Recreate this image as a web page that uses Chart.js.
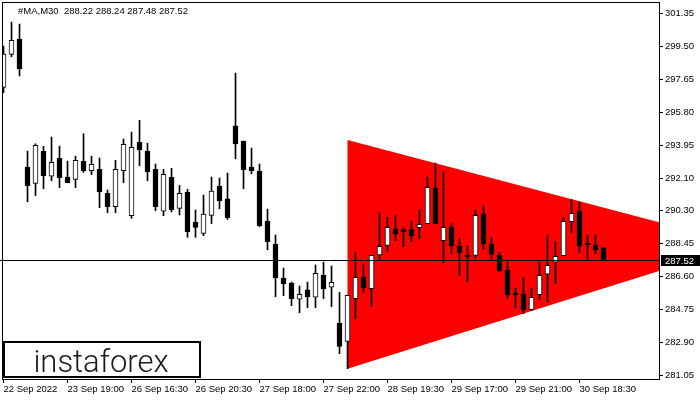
<!DOCTYPE html>
<html>
<head>
<meta charset="utf-8">
<script src="https://cdn.jsdelivr.net/npm/chart.js@4.4.0/dist/chart.umd.min.js"></script>
<style>
  html, body { margin: 0; padding: 0; background: #fff; }
</style>
</head>
<body>
<canvas id="chart" width="700" height="400"></canvas>
<script>
// M30 candles
const opens  = [297.21, 299.06, 299.90, 292.75, 291.83, 293.63, 292.23, 293.24, 292.19, 292.06,
                293.07, 292.54, 292.62, 291.27, 290.52, 292.54, 290.02, 294.13, 293.63, 292.62,
                290.27, 292.17, 290.43, 291.35, 289.67, 289.03, 290.04, 291.68, 290.96, 295.05,
                294.20, 292.75, 292.52, 289.72, 288.43, 286.53, 286.25, 285.34, 285.86, 285.45,
                286.68, 286.01, 283.99, 282.98, 285.37, 286.58, 285.93, 287.83, 288.36, 289.27,
                289.24, 289.24, 289.35, 289.57, 291.57, 288.62, 289.37, 288.32, 287.80, 287.80,
                290.11, 288.43, 287.80, 286.98, 285.67, 285.63, 284.75, 285.59, 286.74, 287.41,
                287.78, 289.68, 290.27, 288.47, 288.36, 288.22];
const highs  = [299.53, 300.87, 300.76, 293.64, 294.05, 293.91, 294.43, 293.92, 293.08, 293.36,
                294.61, 293.36, 293.25, 291.46, 293.12, 294.32, 294.71, 295.37, 294.08, 292.92,
                292.62, 292.68, 291.72, 291.50, 290.34, 291.18, 292.19, 292.13, 292.41, 298.01,
                294.20, 293.81, 292.92, 290.39, 288.94, 287.09, 286.30, 286.08, 286.30, 287.26,
                287.42, 287.20, 285.73, 285.56, 287.99, 287.31, 287.80, 290.17, 289.93, 290.04,
                289.35, 289.72, 290.34, 292.19, 292.97, 292.52, 289.59, 288.73, 288.36, 290.34,
                290.60, 288.81, 287.97, 287.50, 285.97, 286.53, 285.97, 287.41, 288.92, 288.56,
                289.93, 290.92, 290.79, 288.92, 288.92, 288.24];
const lows   = [296.91, 298.93, 297.85, 290.80, 291.14, 291.53, 291.98, 291.59, 291.87, 291.59,
                292.45, 292.32, 290.47, 290.19, 290.19, 291.87, 289.87, 292.82, 291.98, 290.30,
                290.02, 290.23, 290.06, 288.81, 288.81, 288.90, 289.58, 290.41, 289.81, 293.21,
                291.53, 292.37, 289.40, 288.11, 285.48, 285.54, 284.98, 284.58, 284.86, 284.86,
                285.37, 284.92, 282.29, 281.45, 284.25, 285.71, 284.92, 287.55, 288.00, 288.62,
                288.28, 288.56, 288.73, 289.57, 289.57, 287.39, 287.89, 286.66, 286.32, 287.61,
                288.15, 287.57, 286.89, 285.37, 284.86, 284.53, 284.72, 285.31, 285.20, 286.21,
                287.78, 289.07, 287.95, 287.52, 287.89, 287.48];
const closes = [299.08, 299.85, 298.26, 291.70, 293.96, 292.26, 293.01, 292.15, 291.87, 293.12,
                292.54, 292.90, 291.36, 290.52, 292.62, 294.02, 293.85, 293.72, 292.48, 290.52,
                292.34, 290.36, 291.27, 289.12, 289.37, 290.11, 291.40, 290.86, 289.91, 294.05,
                292.60, 292.54, 289.46, 288.56, 286.55, 286.21, 285.37, 285.62, 285.48, 286.79,
                285.93, 286.29, 282.70, 285.56, 286.57, 285.99, 287.80, 288.30, 289.37, 289.01,
                289.12, 288.90, 289.54, 291.61, 289.57, 289.37, 288.34, 287.95, 287.72, 290.04,
                288.45, 287.87, 286.94, 285.59, 285.58, 284.75, 285.45, 286.68, 287.24, 287.74,
                289.71, 290.15, 288.34, 288.39, 288.11, 287.52];

const xTickIndex  = [0, 8, 16, 24, 32, 40, 48, 56, 64, 72];
const xTickLabels = ['22 Sep 2022', '23 Sep 19:00', '26 Sep 16:30', '26 Sep 20:30', '27 Sep 18:00',
                     '27 Sep 22:00', '28 Sep 19:30', '29 Sep 17:00', '29 Sep 21:00', '30 Sep 18:30'];
const yTicks = [301.35, 299.50, 297.65, 295.80, 293.95, 292.10, 290.30, 288.45, 286.60, 284.75, 282.90, 281.05];

// triangle pattern: [candle index, price]
const triangle = [[43, 294.26], [92.5, 288.41], [43, 281.45]];
const lastPrice = 287.52;
const headerText = '#MA,M30  288.22 288.24 287.48 287.52';

const FONT = "'Liberation Sans', Arial, sans-serif";

const decor = {
    id: 'decor',
    beforeDatasetsDraw(chart) {
        const { ctx, chartArea: a, scales: { x, y } } = chart;
        ctx.save();
        ctx.beginPath();
        ctx.rect(a.left, a.top, a.right - a.left, a.bottom - a.top);
        ctx.clip();
        ctx.beginPath();
        triangle.forEach((p, i) => {
            const px = x.getPixelForValue(p[0]), py = y.getPixelForValue(p[1]);
            if (i === 0) ctx.moveTo(px, py); else ctx.lineTo(px, py);
        });
        ctx.closePath();
        ctx.fillStyle = '#FF0000';
        ctx.fill();
        ctx.restore();
    },
    afterDatasetsDraw(chart) {
        const { ctx, chartArea: a, scales: { y } } = chart;
        const py = Math.round(y.getPixelForValue(lastPrice)) + 0.5;
        ctx.save();
        // price line
        ctx.strokeStyle = '#000';
        ctx.lineWidth = 1;
        ctx.beginPath();
        ctx.moveTo(0, py);
        ctx.lineTo(a.right, py);
        ctx.stroke();
        // frame
        ctx.strokeRect(a.left - 0.5, a.top - 0.5, a.right - a.left + 1, a.bottom - a.top + 1);
        // last price label
        ctx.fillStyle = '#000';
        ctx.fillRect(a.right + 2, py - 5.5, 700 - a.right - 2, 11);
        ctx.fillStyle = '#fff';
        ctx.font = '9.5px ' + FONT;
        ctx.textBaseline = 'middle';
        ctx.fillText(lastPrice.toFixed(2), a.right + 6, py + 0.5);
        // header
        ctx.fillStyle = '#000';
        ctx.fillText(headerText, 18, 11);
        // logo box
        ctx.fillStyle = '#fff';
        ctx.fillRect(3, 341, 198, 37);
        ctx.lineWidth = 2;
        ctx.strokeRect(4, 342, 196, 35);
        ctx.fillStyle = '#1a1a1a';
        ctx.font = '300 31px Roboto, ' + FONT;
        ctx.textAlign = 'center';
        ctx.textBaseline = 'alphabetic';
        ctx.fillText('instaforex', 101, 372);
        ctx.restore();
    }
};

const idx = opens.map((_, i) => i);

new Chart(document.getElementById('chart'), {
    type: 'bar',
    data: {
        datasets: [
            {
                label: 'body',
                data: idx.map(i => ({ x: i, y: [opens[i], closes[i]] })),
                backgroundColor: idx.map(i => closes[i] >= opens[i] ? '#FFFFFF' : '#000000'),
                borderColor: '#000',
                borderWidth: 1,
                borderSkipped: false,
                barThickness: 5,
                grouped: false
            },
            {
                label: 'wick',
                data: idx.map(i => ({ x: i, y: [lows[i], highs[i]] })),
                backgroundColor: '#000',
                borderWidth: 0,
                barThickness: 1,
                grouped: false
            }
        ]
    },
    options: {
        responsive: false,
        animation: false,
        layout: { padding: { left: 3, top: 3, right: 0, bottom: 0 } },
        plugins: { legend: { display: false }, tooltip: { enabled: false } },
        scales: {
            x: {
                type: 'linear',
                offset: false,
                min: -0.0625,
                max: 81.9375,
                afterBuildTicks: s => { s.ticks = xTickIndex.map(v => ({ value: v })); },
                afterFit: s => { s.height = 21; s.paddingLeft = 0; s.paddingRight = 0; },
                grid: { drawOnChartArea: false, offset: false, tickLength: 4, tickColor: '#000' },
                border: { display: false },
                ticks: {
                    autoSkip: false, maxRotation: 0, align: 'start', padding: 1,
                    color: '#000', font: { family: FONT, size: 9.5 },
                    callback: (v, i) => xTickLabels[i]
                }
            },
            y: {
                position: 'right',
                min: 280.87,
                max: 301.94,
                afterBuildTicks: s => { s.ticks = yTicks.map(v => ({ value: v })); },
                afterFit: s => { s.width = 41; s.paddingTop = 0; s.paddingBottom = 0; },
                grid: { drawOnChartArea: false, tickLength: 4, tickColor: '#000' },
                border: { display: false },
                ticks: {
                    padding: 2, color: '#000', font: { family: FONT, size: 9.5 },
                    callback: v => v.toFixed(2)
                }
            }
        }
    },
    plugins: [decor]
});
</script>
</body>
</html>
